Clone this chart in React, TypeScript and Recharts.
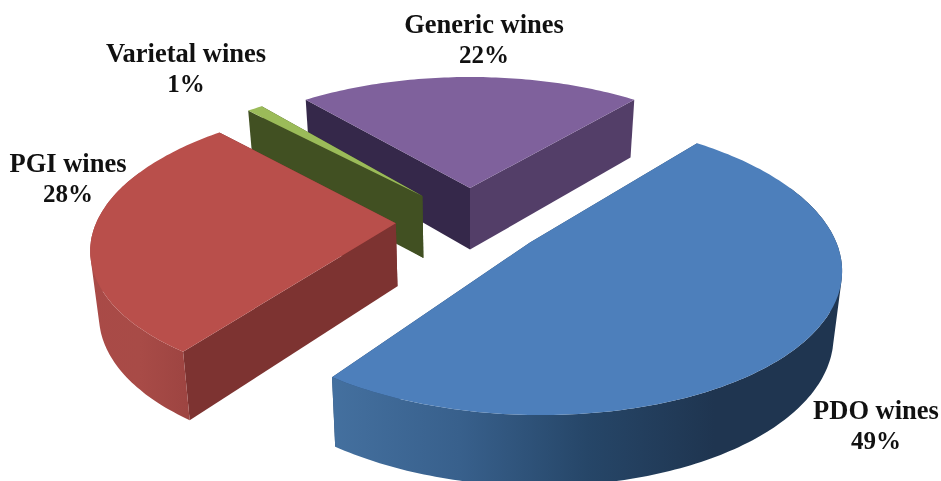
import { PieChart, Pie } from "recharts";

const names = ["Generic wines", "Varietal wines", "PGI wines", "PDO wines"];
const shares = [22, 1, 28, 49];
const data = names.map((name, i) => ({ name, value: shares[i] }));

// slice styles: top face, wall at first cut, wall at second cut, rim gradient
const topColors: Record<string, string> = {
  "Generic wines": "#7f619c",
  "Varietal wines": "#9bbb59",
  "PGI wines": "#b94f4b",
  "PDO wines": "#4d7fbb",
};
const firstCut: Record<string, string> = {
  "Generic wines": "#533e68",
  "Varietal wines": "#415022",
  "PGI wines": "#7d3331",
  "PDO wines": "#2a4a70",
};
const secondCut: Record<string, string> = {
  "Generic wines": "#35284a",
  "Varietal wines": "#415022",
  "PGI wines": "#7d3331",
  "PDO wines": "#2a4a70",
};
const rimStops: Record<string, string[]> = {
  "Generic wines": ["#533e68", "#533e68"],
  "Varietal wines": ["#415022", "#415022"],
  "PGI wines": ["#a94a47", "#a84b47", "#9d4441"],
  "PDO wines": ["#44709f", "#38608c", "#264668", "#1f3550", "#1f3550"],
};
const labelSpots: Record<string, [number, number]> = {
  "Generic wines": [484, 33],
  "Varietal wines": [186, 62],
  "PGI wines": [68, 172],
  "PDO wines": [876, 419],
};

// fake 3d: tilt, perspective, explosion and thickness of the disc
const SQUASH = 0.4615;
const PERSPECTIVE = 0.157;
const EXPLODE = 0.248;
const THICKNESS = 63;
const BOTTOM_SHRINK = 0.977;

const RAD = Math.PI / 180;

function makeProjector(cx: number, cy: number, r: number, mid: number) {
  const ox = EXPLODE * Math.cos(mid * RAD);
  const oz = -EXPLODE * Math.sin(mid * RAD);
  return (ux: number, uz: number, low: boolean) => {
    const wx = ux + ox;
    const wz = uz + oz;
    const s = 1 / (1 - PERSPECTIVE * wz);
    const px = r * wx * s;
    const py = r * SQUASH * wz * s;
    if (!low) return [cx + px, cy + py];
    return [cx + px * BOTTOM_SHRINK, cy + py + THICKNESS * Math.pow(s, 0.6)];
  };
}

const toPath = (pts: number[][]) =>
  "M" + pts.map((p) => `${p[0].toFixed(1)},${p[1].toFixed(1)}`).join("L") + "Z";

// all quads wound the same way, so the fold at the silhouette does not cancel out
function windSame(pts: number[][]) {
  let area = 0;
  pts.forEach((p, i) => {
    const q = pts[(i + 1) % pts.length];
    area += p[0] * q[1] - q[0] * p[1];
  });
  return area < 0 ? [...pts].reverse() : pts;
}

function Slice3D(props: any) {
  const { cx, cy, outerRadius, startAngle, endAngle, name } = props;
  const mid = (startAngle + endAngle) / 2;
  const project = makeProjector(cx, cy, outerRadius, mid);

  const rim: { ux: number; uz: number }[] = [];
  const steps = Math.max(2, Math.ceil(Math.abs(endAngle - startAngle)));
  for (let i = 0; i <= steps; i++) {
    const a = (startAngle + ((endAngle - startAngle) * i) / steps) * RAD;
    rim.push({ ux: Math.cos(a), uz: -Math.sin(a) });
  }

  const cutWall = (e: { ux: number; uz: number }) =>
    toPath([
      project(0, 0, false),
      project(e.ux, e.uz, false),
      project(e.ux, e.uz, true),
      project(0, 0, true),
    ]);

  // the back of the rim ends up hidden under the top face
  const front = rim.filter((p) => p.uz > -0.4);
  const rimPath = front
    .slice(1)
    .map((p, i) =>
      toPath(
        windSame([
          project(front[i].ux, front[i].uz, false),
          project(p.ux, p.uz, false),
          project(p.ux, p.uz, true),
          project(front[i].ux, front[i].uz, true),
        ])
      )
    )
    .join("");

  const top = toPath([
    project(0, 0, false),
    ...rim.map((p) => project(p.ux, p.uz, false)),
  ]);

  const gradId = "rim-" + name.split(" ")[0];
  const stops = rimStops[name];

  return (
    <g>
      <defs>
        <linearGradient id={gradId} x1="0" y1="0" x2="1" y2="0">
          {stops.map((c, i) => (
            <stop key={i} offset={i / (stops.length - 1)} stopColor={c} />
          ))}
        </linearGradient>
      </defs>
      <path d={cutWall(rim[0])} fill={firstCut[name]} />
      <path d={cutWall(rim[rim.length - 1])} fill={secondCut[name]} />
      {rimPath && <path d={rimPath} fill={`url(#${gradId})`} />}
      <path d={top} fill={topColors[name]} />
    </g>
  );
}

function SliceLabel(props: any) {
  const { name, percent } = props;
  const [x, y] = labelSpots[name];
  return (
    <text
      x={x}
      y={y}
      textAnchor="middle"
      fontFamily="'Liberation Serif', serif"
      fontWeight="bold"
      fill="#111"
    >
      <tspan x={x} fontSize={26.5}>{name}</tspan>
      <tspan x={x} dy={30} fontSize={25}>{`${Math.round(percent * 100)}%`}</tspan>
    </text>
  );
}

export default function App() {
  return (
    <div style={{ position: "fixed", left: 0, top: 0, width: 941, height: 481, overflow: "hidden" }}>
      <PieChart width={941} height={481} margin={{ top: 0, right: 0, bottom: 0, left: 0 }}>
        <Pie
          data={data}
          dataKey="value"
          nameKey="name"
          cx={470}
          cy={221}
          innerRadius={0}
          outerRadius={299}
          startAngle={50.4}
          endAngle={410.4}
          stroke="none"
          labelLine={false}
          label={SliceLabel}
          shape={Slice3D}
          inactiveShape={Slice3D}
          isAnimationActive={false}
        />
      </PieChart>
    </div>
  );
}
